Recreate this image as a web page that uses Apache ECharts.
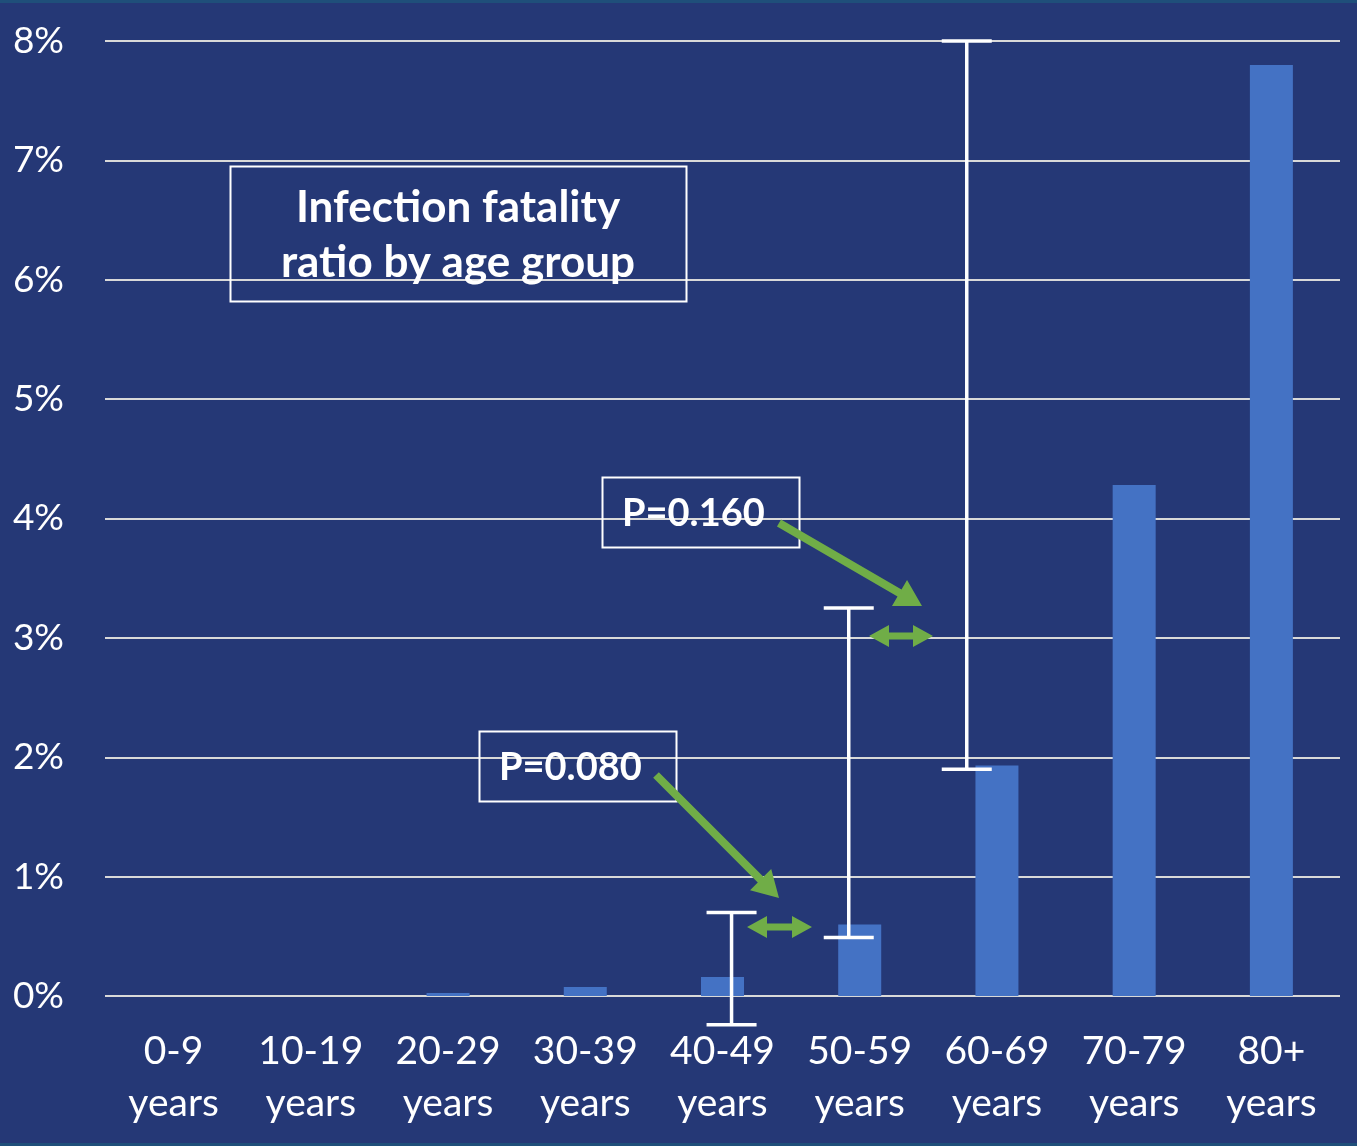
<!DOCTYPE html>
<html><head><meta charset="utf-8">
<script src="https://cdn.jsdelivr.net/npm/echarts@6/dist/echarts.min.js"></script>
<style>html,body{margin:0;padding:0;background:#253876;}#c{width:1357px;height:1146px;}</style>
</head><body><div id="c"></div>
<script>
const categories = ['0-9\nyears','10-19\nyears','20-29\nyears','30-39\nyears','40-49\nyears','50-59\nyears','60-69\nyears','70-79\nyears','80+\nyears'];
const ifrValues = [0, 0, 0.025, 0.075, 0.16, 0.6, 1.93, 4.28, 7.8];
const errLow  = [null, null, null, null, -0.24, 0.49, 1.9, null, null];
const errHigh = [null, null, null, null, 0.70, 3.25, 8.0, null, null];
const yTicks = [0,1,2,3,4,5,6,7,8];
const annotationTexts = ['Infection fatality\nratio by age group','P=0.160','P=0.080'];

// visual offset of the hand-drawn error bars (fraction of category band)
const errShift = [0,0,0,0,0.066,-0.08,-0.22,0,0];

const FONT = 'Lato, "Open Sans", sans-serif';
const GREEN = '#70AD47';

function arrow(x1,y1,x2,y2,shaft,headLen,headW,dbl){
  const dx=x2-x1, dy=y2-y1, L=Math.hypot(dx,dy), ux=dx/L, uy=dy/L, nx=-uy, ny=ux;
  const p=(d,o)=>[x1+ux*d+nx*o, y1+uy*d+ny*o];
  const s=shaft/2, h=headW/2;
  let pts;
  if(dbl){
    pts=[p(0,0),p(headLen,h),p(headLen,s),p(L-headLen,s),p(L-headLen,h),p(L,0),p(L-headLen,-h),p(L-headLen,-s),p(headLen,-s),p(headLen,-h)];
  } else {
    pts=[p(0,s),p(L-headLen,s),p(L-headLen,h),p(L,0),p(L-headLen,-h),p(L-headLen,-s),p(0,-s)];
  }
  return {type:'polygon',shape:{points:pts},style:{fill:GREEN},z:100};
}

const chart = echarts.init(document.getElementById('c'));
const errData = categories.map((c,i)=> errLow[i]==null?null:[i, errLow[i], errHigh[i]]).filter(d=>d);

chart.setOption({
  backgroundColor:'#253876',
  animation:false,
  grid:{left:105,right:17,top:41,bottom:150},
  xAxis:{type:'category',data:categories,
    axisLine:{show:false},axisTick:{show:false},
    axisLabel:{color:'#ffffff',fontSize:39,fontFamily:FONT,lineHeight:52,margin:29,interval:0}},
  yAxis:{type:'value',min:yTicks[0],max:yTicks[yTicks.length-1],interval:1,
    axisLine:{show:false},axisTick:{show:false},
    axisLabel:{color:'#ffffff',fontSize:37,fontFamily:FONT,formatter:'{value}%',margin:41,align:'right'},
    splitLine:{lineStyle:{color:'#d9d9d9',width:2}}},
  series:[
    {type:'bar',data:ifrValues,barWidth:43,itemStyle:{color:'#4472C4'}},
    {type:'custom',data:errData,clip:false,z:10,
      renderItem:function(params,api){
        const i=api.value(0);
        const bw=api.size([1,0])[0];
        const lo=api.coord([i,api.value(1)]);
        const hi=api.coord([i,api.value(2)]);
        const x=lo[0]+errShift[i]*bw;
        const cap=25;
        const st={stroke:'#ffffff',lineWidth:3.5};
        return {type:'group',children:[
          {type:'line',shape:{x1:x,y1:lo[1],x2:x,y2:hi[1]},style:st},
          {type:'line',shape:{x1:x-cap,y1:lo[1],x2:x+cap,y2:lo[1]},style:st},
          {type:'line',shape:{x1:x-cap,y1:hi[1],x2:x+cap,y2:hi[1]},style:st}
        ]};
      }}
  ],
  graphic:[
    {type:'rect',shape:{x:230.5,y:166.5,width:456,height:135},style:{fill:'rgba(0,0,0,0)',stroke:'#ffffff',lineWidth:2},z:50},
    {type:'text',x:458,y:235,style:{text:annotationTexts[0],fill:'#ffffff',font:'bold 44px '+FONT,align:'center',verticalAlign:'middle',lineHeight:55},z:51},
    {type:'rect',shape:{x:602.5,y:477.5,width:197,height:70},style:{fill:'rgba(0,0,0,0)',stroke:'#ffffff',lineWidth:2},z:50},
    {type:'text',x:622,y:514,style:{text:annotationTexts[1],fill:'#ffffff',font:'bold 38px '+FONT,verticalAlign:'middle'},z:51},
    {type:'rect',shape:{x:479.5,y:731.5,width:197,height:70},style:{fill:'rgba(0,0,0,0)',stroke:'#ffffff',lineWidth:2},z:50},
    {type:'text',x:499,y:768,style:{text:annotationTexts[2],fill:'#ffffff',font:'bold 38px '+FONT,verticalAlign:'middle'},z:51},
    arrow(779,523,922,606,8,26,30,false),
    arrow(656,775,779,898,8,26,30,false),
    arrow(747,927,812,927,7,20,22,true),
    arrow(869,636,933,636,7,20,22,true),
    {type:'rect',shape:{x:0,y:0,width:1357,height:3},style:{fill:'#1f4f7a'},z:1},
    {type:'rect',shape:{x:0,y:1143,width:1357,height:3},style:{fill:'#1f4f7a'},z:1}
  ]
});
</script></body></html>
